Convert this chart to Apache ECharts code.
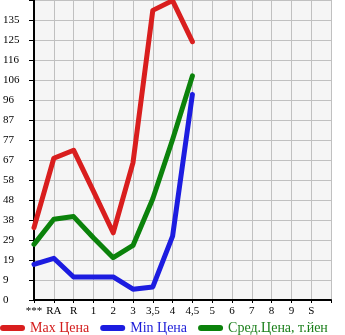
<!DOCTYPE html>
<html><head><meta charset="utf-8">
<script src="https://cdn.jsdelivr.net/npm/echarts@6/dist/echarts.min.js"></script>
<style>html,body{margin:0;padding:0;background:#fff}#c{width:345px;height:335px}</style>
</head><body><div id="c"></div>
<script>
var categories = ['***','RA','R','1','2','3','3,5','4','4,5','5','6','7','8','9','S',''];
var yTickLabels = ['0','9','19','29','38','48','58','67','77','87','96','106','116','125','135',''];
var maxPrice = [34.9, 68.3, 72.2, 52.5, 32.4, 66.2, 139.6, 144.3, 124.5];
var minPrice = [17.2, 20.1, 11.1, 11.1, 11.1, 5.2, 6.3, 30.8, 99.1];
var avgPrice = [26.8, 38.9, 40.2, 30.0, 20.4, 26.3, 48.8, 77.4, 108.0];
var step = 9.64;

var chart = echarts.init(document.getElementById('c'), null, {renderer:'canvas'});
var font = '"Liberation Serif", "DejaVu Serif", serif';
function mk(name, data, color){
  return {name:name, type:'line', data:data, symbol:'none', smooth:false,
    lineStyle:{width:5, color:color, cap:'round', join:'round'}, itemStyle:{color:color}, z:3};
}
chart.setOption({
  animation:false,
  backgroundColor:'#ffffff',
  grid:{left:31, right:14, top:0, bottom:35, show:true, backgroundColor:'#f5f5f5', borderWidth:0},
  legend:{left:0, top:321, padding:0, itemWidth:25, itemHeight:6, itemGap:11,
    icon:'path://M3,0 H22 A3,3 0 0 1 22,6 H3 A3,3 0 0 1 3,0 Z',
    textStyle:{fontFamily:font, fontSize:14, padding:[0,0,0,0]},
    data:[
      {name:'Max Цена', textStyle:{color:'#d41c1c'}},
      {name:'Min Цена', textStyle:{color:'#1c1cd8'}},
      {name:'Сред.Цена, т.йен', textStyle:{color:'#1a7f1a'}}
    ]},
  xAxis:{type:'category', data:categories, boundaryGap:false,
    axisLine:{lineStyle:{color:'#000', width:2}},
    axisTick:{show:true, length:3, lineStyle:{color:'#000'}},
    axisLabel:{color:'#000', fontFamily:font, fontSize:11, margin:6, interval:0},
    splitLine:{show:true, lineStyle:{color:'#c0c0c0', width:1}}},
  yAxis:{type:'value', min:0, max:step*15, interval:step,
    axisLine:{show:true, lineStyle:{color:'#000', width:2}},
    axisTick:{show:true, length:5, lineStyle:{color:'#000'}},
    axisLabel:{color:'#000', fontFamily:font, fontSize:11, align:'left', margin:31,
      padding:[0,0,7,0],
      formatter:function(v){var i=Math.round(v/step);return yTickLabels[i]||'';}},
    splitLine:{show:true, lineStyle:{color:'#c0c0c0', width:1}}},
  series:[
    mk('Max Цена', maxPrice, '#d91e1e'),
    mk('Min Цена', minPrice, '#1c1ce0'),
    mk('Сред.Цена, т.йен', avgPrice, '#0b820b')
  ]
});
</script></body></html>
